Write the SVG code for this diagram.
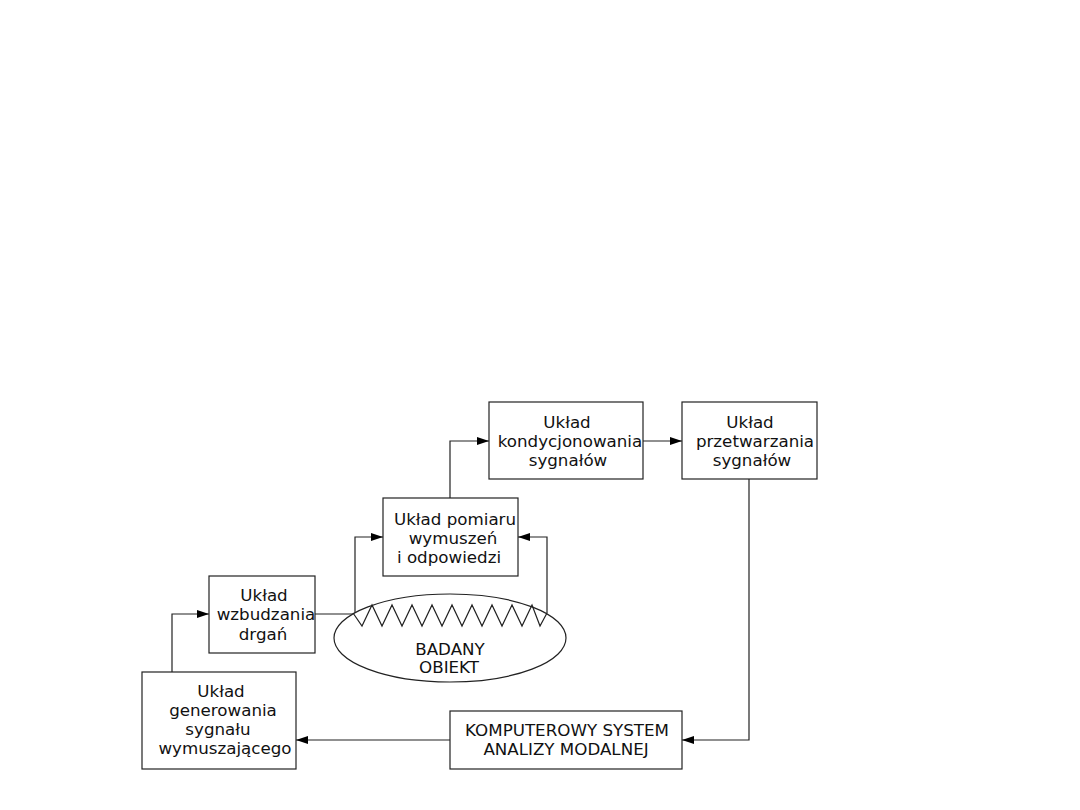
<svg xmlns="http://www.w3.org/2000/svg" width="1080" height="810" viewBox="0 0 1080 810">
<defs>
<marker id="ah" markerWidth="12" markerHeight="8" refX="12" refY="4" orient="auto" markerUnits="userSpaceOnUse">
<path d="M0,0 L12,4 L0,8 Z" fill="#000"/>
</marker>
<style>
.box{fill:#fff;stroke:#222;stroke-width:1.2}
.ln{fill:none;stroke:#222;stroke-width:1.2}
text{font-family:"DejaVu Sans",sans-serif;font-size:16.7px;fill:#111;text-anchor:middle}
</style>
</defs>
<rect width="1080" height="810" fill="#fff"/>
<g id="connectors">
<path class="ln" d="M172,672 V614 H209" marker-end="url(#ah)"/>
<path class="ln" d="M315,614 H355"/>
<path class="ln" d="M355,614 V537 H383" marker-end="url(#ah)"/>
<path class="ln" d="M547,613 V537 H518" marker-end="url(#ah)"/>
<path class="ln" d="M450,498 V441 H489" marker-end="url(#ah)"/>
<path class="ln" d="M643,441 H682" marker-end="url(#ah)"/>
<path class="ln" d="M749,479 V740 H682" marker-end="url(#ah)"/>
<path class="ln" d="M450,740 H296" marker-end="url(#ah)"/>
</g>
<g id="obiekt">
<ellipse class="box" cx="450" cy="638" rx="116" ry="44"/>
<polyline class="ln" points="353,613 362,626 372,605 382,626 392,605 402,626 412,605 422,626 432,605 442,626 452,605 462,626 472,605 482,626 492,605 502,626 512,605 522,626 532,605 540,626 547,613"/>
<text x="450" y="655">BADANY</text>
<text x="449" y="673">OBIEKT</text>
</g>
<g id="wzbudzania">
<rect class="box" x="209" y="576" width="106" height="77"/>
<text x="264" y="601">Układ</text>
<text x="266" y="620">wzbudzania</text>
<text x="263" y="640">drgań</text>
</g>
<g id="generowania">
<rect class="box" x="142" y="672" width="154" height="97"/>
<text x="221" y="697">Układ</text>
<text x="223" y="716">generowania</text>
<text x="218" y="735">sygnału</text>
<text x="225" y="754">wymuszającego</text>
</g>
<g id="pomiaru">
<rect class="box" x="383" y="498" width="135" height="78"/>
<text x="455" y="525">Układ pomiaru</text>
<text x="453" y="544">wymuszeń</text>
<text x="449" y="563">i odpowiedzi</text>
</g>
<g id="kondycjonowania">
<rect class="box" x="489" y="402" width="154" height="77"/>
<text x="567" y="428">Układ</text>
<text x="570" y="447">kondycjonowania</text>
<text x="568" y="466">sygnałów</text>
</g>
<g id="przetwarzania">
<rect class="box" x="682" y="402" width="135" height="77"/>
<text x="750" y="428">Układ</text>
<text x="755" y="447">przetwarzania</text>
<text x="752" y="466">sygnałów</text>
</g>
<g id="komputerowy">
<rect class="box" x="450" y="711" width="232" height="58"/>
<text x="567" y="736">KOMPUTEROWY SYSTEM</text>
<text x="566" y="755">ANALIZY MODALNEJ</text>
</g>
</svg>
